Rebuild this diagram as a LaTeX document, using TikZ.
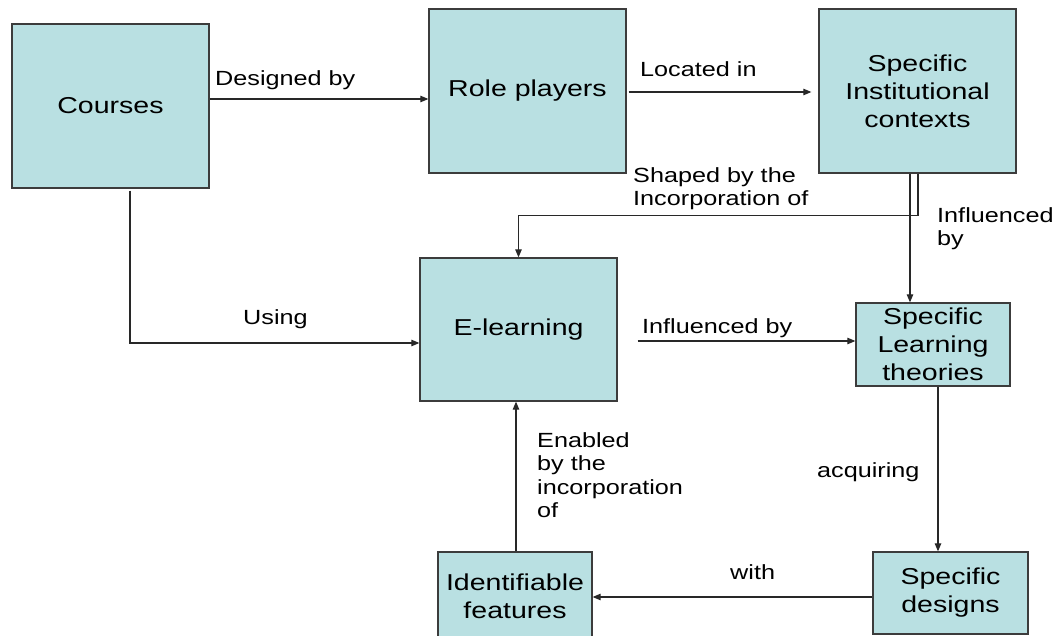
\documentclass[tikz,border=0pt]{standalone}
\usepackage{fontspec}
\setmainfont{Liberation Sans}
\newfontfamily\boxfont[FakeStretch=1.24]{Liberation Sans}
\newfontfamily\lblfont[FakeStretch=1.23]{Liberation Sans}
\usetikzlibrary{arrows.meta}
\definecolor{boxfill}{RGB}{185,224,226}
\definecolor{boxedge}{RGB}{60,60,60}
\definecolor{lineclr}{RGB}{40,40,40}
\begin{document}
\begin{tikzpicture}[x=1pt,y=-1pt,
  box/.style={draw=boxedge, line width=1.3pt, fill=boxfill, align=center, inner sep=0pt,
    font=\boxfont\fontsize{23}{28}\selectfont},
  arr/.style={draw=lineclr, line width=1.1pt, -{Triangle[length=8pt,width=6.5pt]}},
  lbl/.style={anchor=base west, align=left, inner sep=0pt,
    font=\lblfont\fontsize{20.5}{23.5}\selectfont}]
\useasboundingbox (0,0) rectangle (1060,635);
\clip (0,0) rectangle (1060,635);

\node[box, minimum width=197pt, minimum height=164pt] (courses) at (110.5,106) {Courses};
\node[box, minimum width=197pt, minimum height=164pt] (role) at (527.5,91) {Role players};
\node[box, minimum width=197pt, minimum height=164pt] (inst) at (917.5,91) {Specific\\Institutional\\contexts};
\node[box, minimum width=197pt, minimum height=143pt] (elearn) at (518.5,329.5) {E-learning};
\node[box, minimum width=154pt, minimum height=83pt] (theory) at (933,344.5) {Specific\\Learning\\theories};
\node[box, minimum width=154pt, minimum height=88pt] (feat) at (515,596) {Identifiable\\features};
\node[box, minimum width=155pt, minimum height=82pt] (design) at (950.5,593) {Specific\\designs};

% connectors
\draw[arr] ([yshift=7pt]courses.east) -- ([yshift=7pt]courses.east -| role.west);
\draw[arr, shorten <=2pt, shorten >=7pt] ([yshift=-1pt]role.east) -- ([yshift=-1pt]role.east -| inst.west);
\draw[arr] ([xshift=0.5pt]inst.south) -- ++(0,42) -| (elearn.north);
\draw[arr] ([xshift=-7.5pt]inst.south) -- ([xshift=-7.5pt]inst.south |- theory.north);
\draw[arr] ([xshift=19.5pt,yshift=-2pt]courses.south) |- ([yshift=-13.5pt]elearn.west);
\draw[arr, shorten <=20pt] ([yshift=-11.5pt]elearn.east) -- ([yshift=-11.5pt]elearn.east -| theory.west);
\draw[arr] ([xshift=5pt]theory.south) -- ([xshift=5pt]theory.south |- design.north);
\draw[arr] ([yshift=-4pt]design.west) -- ([yshift=-4pt]design.west -| feat.east);
\draw[arr] ([xshift=1pt]feat.north) -- ([xshift=1pt]feat.north |- elearn.south);

% labels (base = baseline of the last line)
\node[lbl] (l1) at (215,85) {Designed by};
\node[lbl] (l2) at (640,76) {Located in};
\node[lbl] (l3) at (633,205.5) {Shaped by the\\Incorporation of};
\node[lbl] (l4) at (937,245.5) {Influenced\\by};
\node[lbl] (l5) at (243,324) {Using};
\node[lbl] (l6) at (642,333) {Influenced by};
\node[lbl] (l7) at (817,477) {acquiring};
\node[lbl] (l8) at (730,579) {with};
\node[lbl] (l9) at (537,517.5) {Enabled\\by the\\incorporation\\of};
\end{tikzpicture}
\end{document}
